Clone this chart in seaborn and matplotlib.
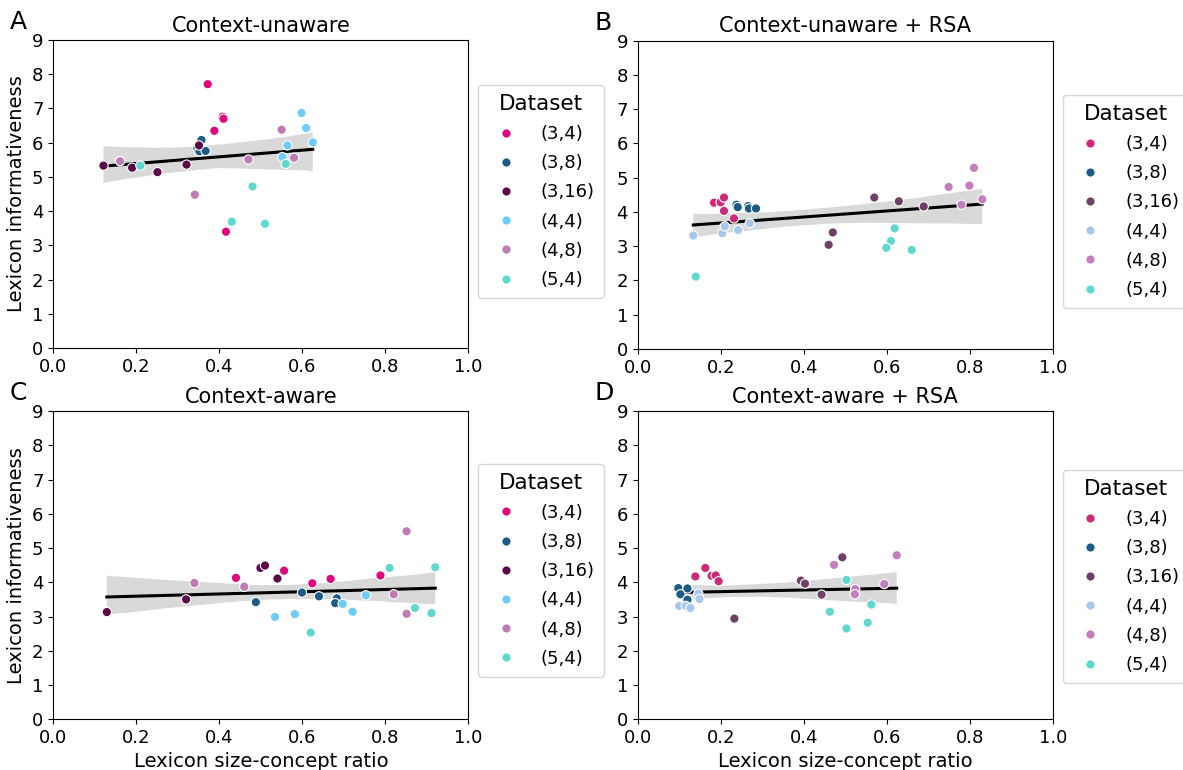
import matplotlib.pyplot as plt
import seaborn as sns
import pandas as pd

# Наборы данных (легенда)
datasets = ['(3,4)', '(3,8)', '(3,16)', '(4,4)', '(4,8)', '(5,4)']

# Цвета: панели A и C / панели B и D
colors_plain = ['#e0067e', '#1d5b85', '#5a0a46', '#6fcdf5', '#bb7db3', '#5fd9cd']
colors_rsa = ['#cf2a7a', '#1d5b85', '#703f66', '#a7c8ea', '#c17fbb', '#5fd9cd']

# Панель A: Context-unaware
a_set = ['(3,4)'] * 5 + ['(3,8)'] * 4 + ['(3,16)'] * 5 + ['(4,4)'] * 5 + ['(4,8)'] * 5 + ['(5,4)'] * 5
a_x = [0.372, 0.408, 0.410, 0.388, 0.416,
       0.357, 0.347, 0.352, 0.367,
       0.121, 0.190, 0.251, 0.321, 0.351,
       0.598, 0.609, 0.625, 0.564, 0.552,
       0.161, 0.341, 0.470, 0.550, 0.580,
       0.210, 0.430, 0.480, 0.510, 0.560]
a_y = [7.71, 6.76, 6.70, 6.35, 3.40,
       6.08, 5.84, 5.75, 5.76,
       5.33, 5.27, 5.14, 5.36, 5.92,
       6.87, 6.43, 6.01, 5.92, 5.58,
       5.46, 4.48, 5.51, 6.38, 5.56,
       5.33, 3.69, 4.72, 3.63, 5.38]

# Панель B: Context-unaware + RSA
b_set = ['(3,4)'] * 5 + ['(3,8)'] * 5 + ['(3,16)'] * 5 + ['(4,4)'] * 5 + ['(4,8)'] * 5 + ['(5,4)'] * 5
b_x = [0.184, 0.200, 0.208, 0.208, 0.232,
       0.238, 0.241, 0.266, 0.268, 0.285,
       0.460, 0.470, 0.570, 0.629, 0.689,
       0.134, 0.204, 0.210, 0.242, 0.270,
       0.749, 0.780, 0.799, 0.810, 0.830,
       0.140, 0.619, 0.610, 0.599, 0.660]
b_y = [4.27, 4.28, 4.42, 4.03, 3.81,
       4.21, 4.14, 4.17, 4.10, 4.10,
       3.04, 3.40, 4.42, 4.31, 4.16,
       3.31, 3.38, 3.58, 3.47, 3.67,
       4.73, 4.21, 4.77, 5.29, 4.37,
       2.11, 3.52, 3.15, 2.95, 2.89]

# Панель C: Context-aware
c_set = ['(3,4)'] * 5 + ['(3,8)'] * 5 + ['(3,16)'] * 5 + ['(4,4)'] * 5 + ['(4,8)'] * 5 + ['(5,4)'] * 5
c_x = [0.440, 0.556, 0.624, 0.668, 0.788,
       0.488, 0.599, 0.640, 0.683, 0.679,
       0.129, 0.320, 0.499, 0.510, 0.540,
       0.534, 0.582, 0.697, 0.721, 0.753,
       0.340, 0.460, 0.820, 0.851, 0.851,
       0.620, 0.810, 0.871, 0.911, 0.920]
c_y = [4.13, 4.34, 3.97, 4.10, 4.20,
       3.42, 3.70, 3.59, 3.53, 3.39,
       3.13, 3.50, 4.42, 4.49, 4.11,
       2.99, 3.07, 3.37, 3.14, 3.62,
       3.98, 3.87, 3.65, 5.49, 3.08,
       2.53, 4.42, 3.25, 3.10, 4.44]

# Панель D: Context-aware + RSA
d_set = ['(3,4)'] * 5 + ['(3,8)'] * 4 + ['(3,16)'] * 5 + ['(4,4)'] * 5 + ['(4,8)'] * 5 + ['(5,4)'] * 5
d_x = [0.139, 0.163, 0.178, 0.188, 0.195,
       0.098, 0.120, 0.103, 0.120,
       0.233, 0.393, 0.403, 0.443, 0.493,
       0.100, 0.116, 0.127, 0.146, 0.149,
       0.473, 0.524, 0.523, 0.594, 0.624,
       0.503, 0.463, 0.503, 0.554, 0.563]
d_y = [4.17, 4.42, 4.19, 4.20, 4.03,
       3.83, 3.82, 3.65, 3.49,
       2.94, 4.05, 3.96, 3.64, 4.73,
       3.31, 3.31, 3.25, 3.67, 3.51,
       4.51, 3.80, 3.65, 3.95, 4.79,
       4.07, 3.14, 2.65, 2.82, 3.35]

fig = plt.figure(figsize=(11.83, 7.70), dpi=100)
positions = [[0.045, 0.548, 0.351, 0.400], [0.539, 0.547, 0.351, 0.400],
             [0.045, 0.066, 0.351, 0.400], [0.539, 0.066, 0.351, 0.400]]


def draw_panel(pos, x, y, sets, colors, title, letter, leg_top, xlabel, ylabel):
    ax = fig.add_axes(pos)
    df = pd.DataFrame({'x': x, 'y': y, 'Dataset': sets})
    # линия регрессии с доверительным интервалом
    sns.regplot(data=df, x='x', y='y', scatter=False, color='black',
                line_kws={'linewidth': 2.2}, seed=0, ax=ax)
    sns.scatterplot(data=df, x='x', y='y', hue='Dataset', hue_order=datasets,
                    palette=dict(zip(datasets, colors)), s=45,
                    edgecolor='white', linewidth=0.8, zorder=3, ax=ax)
    ax.set_xlim(0, 1)
    ax.set_ylim(0, 9)
    ax.set_xticks([0, 0.2, 0.4, 0.6, 0.8, 1.0])
    ax.set_yticks(range(10))
    ax.tick_params(labelsize=13)
    ax.set_title(title, fontsize=15)
    ax.set_xlabel(xlabel, fontsize=14)
    ax.set_ylabel(ylabel, fontsize=14)
    ax.text(-0.105, 1.02, letter, transform=ax.transAxes, fontsize=18,
            va='bottom', ha='left')
    ax.legend(title='Dataset', fontsize=13, title_fontsize=15.5,
              loc='upper left', bbox_to_anchor=(1.024, leg_top), borderaxespad=0,
              handletextpad=0.95, labelspacing=0.62, borderpad=0.5)


draw_panel(positions[0], a_x, a_y, a_set, colors_plain, 'Context-unaware', 'A', 0.855,
           '', 'Lexicon informativeness')
draw_panel(positions[1], b_x, b_y, b_set, colors_rsa, 'Context-unaware + RSA', 'B', 0.825,
           '', '')
draw_panel(positions[2], c_x, c_y, c_set, colors_plain, 'Context-aware', 'C', 0.83,
           'Lexicon size-concept ratio', 'Lexicon informativeness')
draw_panel(positions[3], d_x, d_y, d_set, colors_rsa, 'Context-aware + RSA', 'D', 0.81,
           'Lexicon size-concept ratio', '')

plt.savefig('out.png', dpi=100)
